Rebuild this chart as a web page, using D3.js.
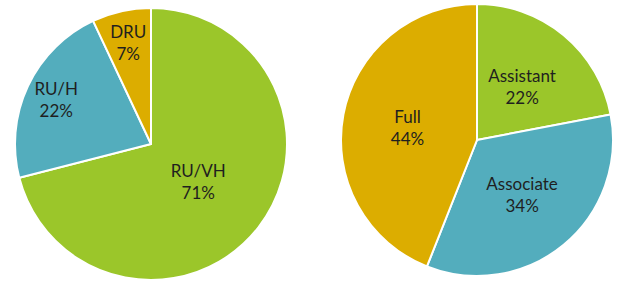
<!DOCTYPE html>
<html>
<head>
<meta charset="utf-8">
<script src="https://cdn.jsdelivr.net/npm/d3@7"></script>
<style>
  body { margin: 0; background: #fff; }
  svg { display: block; }
</style>
</head>
<body>
<svg id="chart" width="621" height="281"></svg>
<script>
// Left pie: institution type
const leftLabels = ["RU/VH", "RU/H", "DRU"];
const leftValues = [71, 22, 7];
const leftColors = ["#9bc62a", "#53adbd", "#dcad00"];

// Right pie: rank
const rightLabels = ["Assistant", "Associate", "Full"];
const rightValues = [22, 34, 44];
const rightColors = ["#9bc62a", "#53adbd", "#dcad00"];

const svg = d3.select("#chart");
const radius = 136;

function drawPie({ labels, values, colors, cx, cy, labelR }) {
    const data = labels.map((label, i) => ({ label, value: values[i], color: colors[i] }));

    // Excel-style: first slice starts at 12 o'clock and goes clockwise
    const pie = d3.pie().sort(null).value(d => d.value);
    const arc = d3.arc().innerRadius(0).outerRadius(radius);

    const g = svg.append("g").attr("transform", `translate(${cx},${cy})`);

    const slices = pie(data);

    g.selectAll("path")
        .data(slices)
        .join("path")
        .attr("d", arc)
        .attr("fill", d => d.data.color)
        .attr("stroke", "#fff")
        .attr("stroke-width", 2)
        .attr("stroke-linejoin", "round");

    const labels_g = g.selectAll("text")
        .data(slices)
        .join("text")
        .attr("transform", d => {
            const r = labelR(d);
            const [x, y] = d3.arc().innerRadius(r).outerRadius(r).centroid(d);
            return `translate(${x},${y})`;
        })
        .attr("text-anchor", "middle")
        .style("font-family", "Lato, 'Open Sans', sans-serif")
        .style("font-size", "17px")
        .attr("fill", "#1f1f1f");

    labels_g.append("tspan")
        .attr("x", 0)
        .attr("y", -4)
        .text(d => d.data.label);

    labels_g.append("tspan")
        .attr("x", 0)
        .attr("y", 18)
        .text(d => `${d.data.value}%`);
}

drawPie({
    labels: leftLabels, values: leftValues, colors: leftColors,
    cx: 151, cy: 144,
    labelR: d => (d.endAngle - d.startAngle) > Math.PI ? radius * 0.44 : radius * 0.77
});

drawPie({
    labels: rightLabels, values: rightValues, colors: rightColors,
    cx: 477, cy: 140,
    labelR: d => radius * 0.52
});
</script>
</body>
</html>
